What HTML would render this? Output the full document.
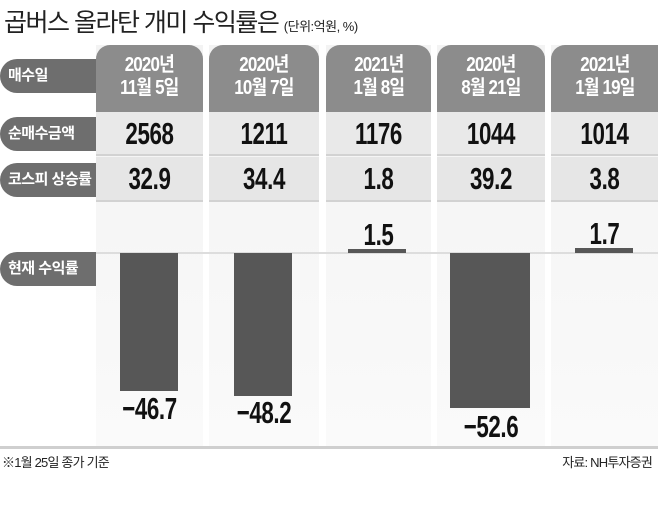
<!DOCTYPE html>
<html><head><meta charset="utf-8"><style>
body{margin:0;width:658px;height:509px;background:#fff;position:relative;overflow:hidden;font-family:"Liberation Sans","Noto Sans CJK KR",sans-serif;}
div{position:absolute;box-sizing:border-box;}
.col{top:45px;height:402px;background:linear-gradient(#f3f3f3,#fafafa);}
.hd{top:45px;height:67px;background:#8c8c8c;border-radius:14px 14px 0 0;color:#fff;font-size:20px;font-weight:bold;line-height:23px;text-align:center;padding-top:9px;letter-spacing:-1px;}
.hd span{display:inline-block;transform:scaleX(0.85);}
.r1{top:112px;height:44px;background:#e9e9e9;border-bottom:2px solid #d2d2d2;}
.r2{top:157px;height:45px;background:#e6e6e6;border-bottom:2px solid #d2d2d2;}
.num{font-weight:bold;font-size:31px;color:#111;text-align:center;transform:scaleX(0.72);letter-spacing:-0.5px;}
.pill{left:0;width:96px;height:34px;background:#6e6e6e;border-radius:17px 0 0 17px;color:#fff;font-weight:bold;font-size:15px;line-height:34px;padding-left:8px;letter-spacing:-0.5px;}
.bar{background:#575757;}
</style></head><body>
<div style="left:4px;top:3px;font-size:25px;color:#222;letter-spacing:-1.5px;white-space:nowrap">곱버스 올라탄 개미 수익률은 <span style="font-size:13px;letter-spacing:-0.5px">(단위:억원, %)</span></div>

<div class="col" style="left:96px;width:107px"></div>
<div class="col" style="left:209px;width:110px"></div>
<div class="col" style="left:326px;width:105px"></div>
<div class="col" style="left:437px;width:108px"></div>
<div class="col" style="left:551px;width:107px"></div>

<div class="r1" style="left:96px;width:562px"></div>
<div class="r2" style="left:96px;width:562px"></div>
<div style="left:96px;top:112px;width:562px;height:92px;background:linear-gradient(90deg,transparent 107px,#fff 107px,#fff 113px,transparent 113px,transparent 223px,#fff 223px,#fff 230px,transparent 230px,transparent 335px,#fff 335px,#fff 341px,transparent 341px,transparent 449px,#fff 449px,#fff 455px,transparent 455px)"></div>

<div class="hd" style="left:96px;width:107px"><span>2020년<br>11월 5일</span></div>
<div class="hd" style="left:209px;width:110px"><span>2020년<br>10월 7일</span></div>
<div class="hd" style="left:326px;width:105px"><span>2021년<br>1월 8일</span></div>
<div class="hd" style="left:437px;width:108px"><span>2020년<br>8월 21일</span></div>
<div class="hd" style="left:551px;width:107px;border-radius:14px 0 0 0"><span>2021년<br>1월 19일</span></div>

<div class="pill" style="top:59px">매수일</div>
<div class="pill" style="top:117px">순매수금액</div>
<div class="pill" style="top:163px">코스피 상승률</div>
<div class="pill" style="top:252px">현재 수익률</div>

<div class="num" style="left:96px;width:107px;top:116px">2568</div>
<div class="num" style="left:209px;width:110px;top:116px">1211</div>
<div class="num" style="left:326px;width:105px;top:116px">1176</div>
<div class="num" style="left:437px;width:108px;top:116px">1044</div>
<div class="num" style="left:551px;width:107px;top:116px">1014</div>
<div class="num" style="left:96px;width:107px;top:161px">32.9</div>
<div class="num" style="left:209px;width:110px;top:161px">34.4</div>
<div class="num" style="left:326px;width:105px;top:161px">1.8</div>
<div class="num" style="left:437px;width:108px;top:161px">39.2</div>
<div class="num" style="left:551px;width:107px;top:161px">3.8</div>

<div style="left:96px;top:252px;width:562px;height:2px;background:#ddd"></div>
<div class="bar" style="left:120px;top:253px;width:58px;height:138px"></div>
<div class="bar" style="left:234px;top:253px;width:58px;height:143px"></div>
<div class="bar" style="left:348px;top:249px;width:58px;height:4px"></div>
<div class="bar" style="left:450px;top:253px;width:80px;height:155px"></div>
<div class="bar" style="left:575px;top:248px;width:58px;height:5px"></div>

<div class="num" style="left:96px;width:107px;top:391px">−46.7</div>
<div class="num" style="left:209px;width:110px;top:395px">−48.2</div>
<div class="num" style="left:326px;width:105px;top:217px">1.5</div>
<div class="num" style="left:437px;width:108px;top:409px">−52.6</div>
<div class="num" style="left:551px;width:107px;top:216px">1.7</div>

<div style="left:0;top:446px;width:658px;height:3px;background:#cfcfcf"></div>
<div style="left:2px;top:452px;font-size:13px;color:#222;letter-spacing:-0.8px">※1월 25일 종가 기준</div>
<div style="right:6px;top:452px;font-size:13px;color:#222;letter-spacing:-0.8px">자료: NH투자증권</div>
</body></html>
